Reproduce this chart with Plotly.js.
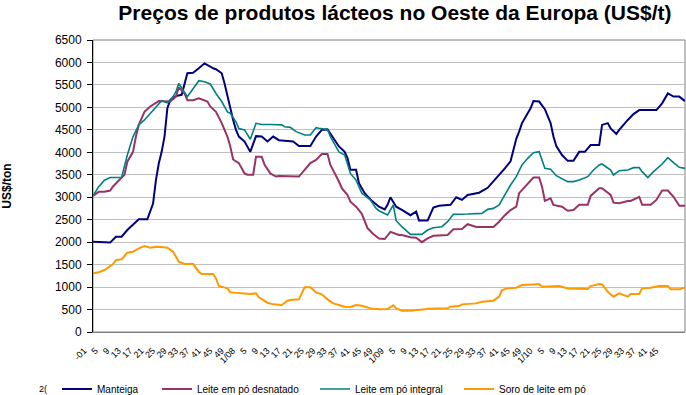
<!DOCTYPE html>
<html>
<head>
<meta charset="utf-8">
<script src="https://cdn.plot.ly/plotly-3.0.1.min.js"></script>
<style>
  html, body { margin: 0; padding: 0; background: #fff; }
  #chart { width: 686px; height: 395px; }
</style>
</head>
<body>
<div id="chart"></div>
<script>
// Week index (0 = first week of 2007, weekly steps)
const manteigaWeek = [0,6,8,10,12,14,16,19,20,21,22,23,24,25,26,27,29,31,33,35,37,39,41,42,43,45,46,47,48,49,50,51,53,54,55,57,59,61,63,65,68,70,72,76,78,80,82,84,86,88,89,90,92,93,95,97,99,100,102,103,104,106,108,111,113,114,117,119,121,125,127,129,131,134,135,138,140,142,144,146,147,148,149,150,152,153,154,156,158,160,161,162,164,166,168,170,172,174,177,178,180,181,183,184,187,189,191,197,199,201,203,205,207];
const manteigaVal  = [2010,1990,2120,2120,2270,2380,2510,2510,2710,2860,3380,3750,4010,4350,4980,5160,5250,5280,5760,5770,5870,5980,5910,5870,5850,5760,5530,5240,5020,4720,4500,4350,4240,4130,4010,4360,4350,4240,4350,4270,4250,4240,4140,4140,4350,4500,4510,4310,4130,4010,3870,3610,3610,3310,3090,2950,2850,2790,2730,2830,3000,2790,2720,2600,2680,2480,2480,2770,2810,2830,3000,2940,3050,3100,3100,3210,3350,3500,3640,3800,4050,4300,4460,4650,4870,4980,5140,5130,4960,4650,4350,4140,3940,3810,3810,4010,4010,4160,4160,4610,4650,4530,4410,4500,4720,4850,4940,4940,5090,5310,5240,5240,5140];

const desnatadoWeek = [0,2,4,6,7,9,11,12,14,15,16,18,20,23,25,27,29,30,32,33,35,37,40,41,43,45,47,48,49,51,53,54,56,57,59,60,62,64,65,69,72,74,76,78,80,82,83,86,87,89,90,92,94,96,98,100,102,104,107,108,111,113,115,117,119,124,126,129,131,134,140,142,144,146,148,149,150,152,154,156,157,158,160,161,164,166,168,170,173,174,177,178,181,182,184,187,188,191,192,195,197,199,201,203,205,207];
const desnatadoVal  = [3030,3120,3120,3150,3240,3380,3500,3790,4010,4350,4610,4900,5020,5140,5140,5130,5240,5450,5310,5160,5160,5200,5130,5020,4900,4650,4350,4130,3840,3760,3530,3500,3500,3900,3900,3720,3530,3460,3470,3470,3460,3610,3760,3830,3960,3960,3720,3350,3200,3050,2900,2790,2630,2310,2180,2080,2070,2230,2160,2160,2110,2100,2000,2085,2140,2160,2285,2290,2400,2340,2340,2455,2600,2715,2790,3090,3160,3310,3440,3440,3235,2920,2975,2830,2790,2700,2716,2830,2830,3030,3200,3200,3050,2880,2865,2916,2916,3010,2830,2830,2940,3150,3150,3010,2810,2810];

const integralWeek = [0,2,4,6,10,11,12,14,16,18,20,22,24,26,28,29,30,33,35,37,39,41,43,45,47,48,50,51,53,55,57,59,62,66,67,69,71,74,76,78,79,82,83,86,88,90,92,94,97,99,100,103,105,106,108,111,115,117,119,122,124,126,131,136,138,140,142,144,146,148,150,152,154,156,158,160,162,166,168,170,173,175,177,178,181,182,184,187,189,191,192,194,196,199,201,203,205,207];
const integralVal  = [3030,3235,3380,3440,3440,3680,3940,4350,4610,4720,4870,5020,5150,5100,5240,5350,5535,5240,5420,5595,5570,5520,5310,5130,4900,4870,4680,4530,4500,4290,4645,4620,4620,4610,4570,4556,4460,4385,4385,4550,4535,4510,4350,4010,3940,3530,3380,3090,2940,2750,2700,2604,2827,2478,2344,2173,2173,2270,2322,2344,2455,2619,2626,2641,2730,2752,2827,3049,3272,3458,3718,3866,3992,4014,3643,3621,3480,3347,3347,3384,3458,3606,3718,3740,3606,3495,3591,3606,3658,3658,3569,3436,3569,3740,3881,3770,3666,3643];

const soroWeek = [0,2,4,7,8,10,12,14,16,18,20,22,24,26,28,29,30,32,35,37,38,42,43,44,47,48,51,55,57,58,61,63,66,68,69,72,74,76,78,80,82,84,86,88,90,92,94,97,100,103,105,106,108,111,116,117,124,125,128,129,134,136,140,142,143,145,148,150,154,156,157,160,163,166,169,173,174,177,178,180,182,184,187,188,191,192,195,198,201,202,205,207];
const soroVal  = [1305,1330,1380,1513,1600,1617,1765,1788,1862,1914,1877,1899,1892,1877,1788,1676,1565,1513,1513,1342,1290,1290,1194,1023,971,882,860,845,860,771,652,615,600,697,712,727,994,994,882,838,727,637,600,563,556,600,586,526,504,511,593,526,474,474,504,519,526,563,578,615,637,674,697,786,934,971,986,1045,1060,1068,1008,1023,1023,971,971,957,1023,1068,1060,897,786,860,786,845,845,971,986,1023,1023,949,949,994];

const seriesNames = ['Manteiga','Leite em pó desnatado','Leite em pó integral','Soro de leite em pó'];
const seriesColors = ['#000080','#993366','#008080','#FF9900'];

// Tick labels
const yearLabels = ['-01','1/08','1/09','1/10'];
const weekLabels = ['5','9','13','17','21','25','29','33','37','41','45','49'];
const lastWeekLabel = 45;

const tickVals = [], tickText = [];
yearLabels.forEach((yl, yi) => {
  tickVals.push(yi * 52); tickText.push(yl);
  weekLabels.forEach(w => {
    const wn = parseInt(w, 10);
    if (yi === yearLabels.length - 1 && wn > lastWeekLabel) return;
    tickVals.push(yi * 52 + wn - 1); tickText.push(w);
  });
});

const xs = [manteigaWeek, desnatadoWeek, integralWeek, soroWeek];
const ys = [manteigaVal, desnatadoVal, integralVal, soroVal];
const widths = [2, 2, 1.6, 2];
const legendIds = ['legend','legend2','legend3','legend4'];

const traces = seriesNames.map((n, i) => ({
  type: 'scatter', mode: 'lines', name: n,
  x: xs[i], y: ys[i],
  line: {color: seriesColors[i], width: widths[i]},
  legend: legendIds[i],
  hoverinfo: 'skip'
}));

const legendFont = {family: 'Liberation Sans, Arial, sans-serif', size: 10, color: '#000'};
const legendPx = [57, 157, 315, 459];
const mkLegend = (px) => ({x: px / 686, xref: 'container', y: 1 - 389 / 395, yref: 'container',
  xanchor: 'left', yanchor: 'middle', orientation: 'h',
  font: legendFont, bgcolor: 'rgba(0,0,0,0)', borderwidth: 0, itemwidth: 30});

const layout = {
  width: 686, height: 395,
  margin: {l: 93, r: 1, t: 40, b: 63},
  paper_bgcolor: '#fff', plot_bgcolor: '#fff',
  font: {family: 'Liberation Sans, Arial, sans-serif', color: '#000'},
  title: {
    text: '<b>Preços de produtos lácteos no Oeste da Europa (US$/t)</b>',
    font: {family: 'Liberation Sans, Arial, sans-serif', size: 21, color: '#000'},
    x: 0.51, xref: 'paper', xanchor: 'center', y: 1 - 13 / 395, yref: 'container', yanchor: 'middle'
  },
  xaxis: {
    range: [0, 207],
    tickmode: 'array', tickvals: tickVals, ticktext: tickText,
    tickangle: -45, tickfont: {size: 9, color: '#000'},
    ticklabelshift: -9, ticklabelstandoff: 9,
    showgrid: false, zeroline: false,
    showline: true, linecolor: '#808080', linewidth: 1,
    ticks: '', fixedrange: true, automargin: false
  },
  yaxis: {
    range: [0, 6500], dtick: 500, tick0: 0,
    tickfont: {size: 12, color: '#000'},
    ticklabelstandoff: 3,
    showgrid: true, gridcolor: '#c0c0c0', gridwidth: 1,
    zeroline: false,
    showline: true, linecolor: '#000', linewidth: 1,
    ticks: 'outside', ticklen: 5, tickcolor: '#000',
    title: {text: '<b>US$/ton</b>', font: {size: 12, color: '#000'}, standoff: 43},
    automargin: false, fixedrange: true
  },
  shapes: [{type: 'rect', xref: 'paper', yref: 'paper', x0: 0, x1: 1, y0: 0, y1: 1,
    line: {color: '#808080', width: 1}, layer: 'below'}],
  annotations: [{text: '2(', xref: 'paper', yref: 'paper', x: (43 - 93) / 592, y: (332 - 389) / 292,
    showarrow: false, font: {size: 9, color: '#000'}, xanchor: 'center', yanchor: 'middle'}],
  legend: mkLegend(legendPx[0]),
  legend2: mkLegend(legendPx[1]),
  legend3: mkLegend(legendPx[2]),
  legend4: mkLegend(legendPx[3]),
  showlegend: true
};

Plotly.newPlot('chart', traces, layout, {staticPlot: true, displayModeBar: false});
</script>
</body>
</html>
